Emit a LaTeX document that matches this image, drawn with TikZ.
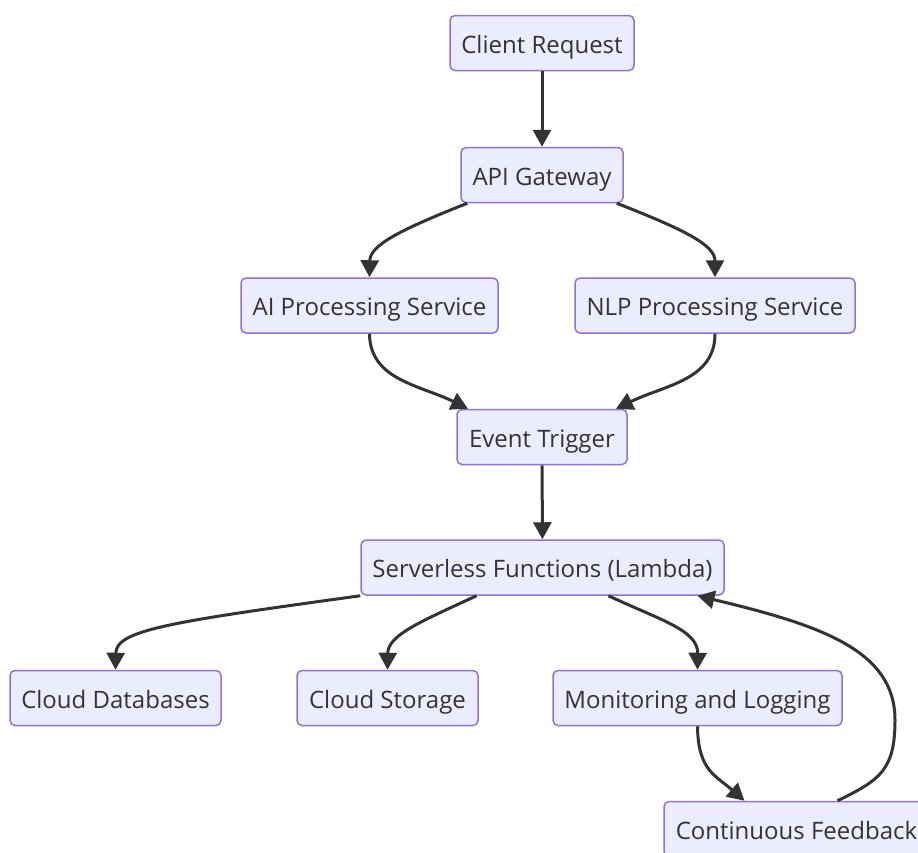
\documentclass[tikz,border=0pt]{standalone}
\usepackage{fontspec}
\setmainfont{Open Sans}
\usetikzlibrary{arrows.meta}
\definecolor{nodefill}{HTML}{ECECFF}
\definecolor{nodeline}{HTML}{9370DB}
\definecolor{textcol}{HTML}{333333}
\definecolor{edgecol}{HTML}{333333}
\begin{document}
\begin{tikzpicture}[x=1pt,y=-1pt,
  box/.style={draw=nodeline,fill=nodefill,line width=1.5pt,rounded corners=5pt,
    minimum height=55pt,inner sep=0pt,text height=20pt,text depth=0pt,
    text=textcol,font=\fontsize{24}{28}\selectfont},
  edge/.style={draw=edgecol,line width=3pt,-{Triangle[length=17pt,width=18pt]}}]
\useasboundingbox (0,0) rectangle (918,852);
\clip (0,0) rectangle (918,852);
\fill[white] (0,0) rectangle (918,852);
\node[box,minimum width=184pt] (client) at (542,43) {Client Request};
\node[box,minimum width=162pt] (api) at (542,175) {API Gateway};
\node[box,minimum width=257pt] (ai) at (369.5,305.5) {AI Processing Service};
\node[box,minimum width=280pt] (nlp) at (715,305.5) {NLP Processing Service};
\node[box,minimum width=170pt] (event) at (542,437) {Event Trigger};
\node[box,minimum width=363pt] (sls) at (542.5,567.5) {Serverless Functions (Lambda)};
\node[box,minimum width=211pt] (db) at (115.5,698) {Cloud Databases};
\node[box,minimum width=181pt] (storage) at (387.5,698) {Cloud Storage};
\node[box,minimum width=289pt] (mon) at (697.5,698) {Monitoring and Logging};
\node[box,minimum width=265pt] (fb) at (796.5,829) {Continuous Feedback};

\draw[edge] (client) -- (api);
\draw[edge] (api.south west) ++(7,0) coordinate (a1) .. controls (400,230) and (370,245) .. (ai.north);
\draw[edge] (api.south east) ++(-7,0) coordinate (a2) .. controls (685,230) and (715,245) .. (nlp.north);
\draw[edge] (ai.south) .. controls (370,380) and (420,385) .. ([xshift=-74pt]event.north);
\draw[edge] (nlp.south) .. controls (715,380) and (665,385) .. ([xshift=74pt]event.north);
\draw[edge] (event) -- (sls);
\draw[edge] (sls.south west) .. controls (170,622) and (116,630) .. (db.north);
\draw[edge] ([xshift=-66pt]sls.south) .. controls (420,622) and (388,635) .. (storage.north);
\draw[edge] ([xshift=66pt]sls.south) .. controls (660,620) and (698,630) .. (mon.north);
\draw[edge] (mon.south) .. controls (698,770) and (715,775) .. ([xshift=-52pt]fb.north);
\draw[edge] ([xshift=41pt]fb.north) .. controls (880,780) and (895,770) .. (895,720)
   .. controls (895,650) and (820,625) .. ([xshift=155pt]sls.south);
\end{tikzpicture}
\end{document}
